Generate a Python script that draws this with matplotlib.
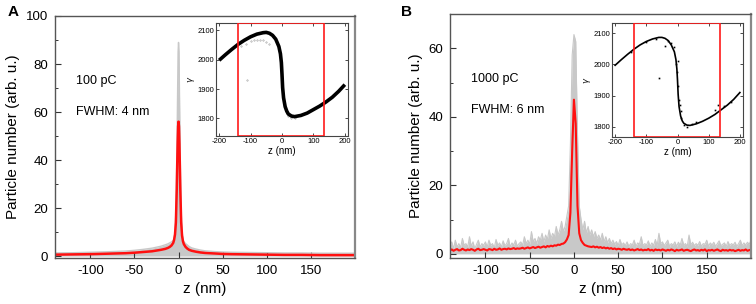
import matplotlib
matplotlib.use('Agg')

import numpy as np
import matplotlib.pyplot as plt
from matplotlib.patches import Rectangle
from matplotlib.ticker import MultipleLocator

plt.rcParams['font.family'] = ['Liberation Sans', 'DejaVu Sans']
plt.rcParams['axes.unicode_minus'] = False

# ---- panel A : 100 pC ----
z_a = [-140, -120, -100, -80, -60, -50, -40, -30, -25, -20, -15, -12, -10, -8, -6, -5, -4, -3, -2, -1.5,
       -1, -0.5, 0, 0.5, 1, 1.5, 2, 3, 4, 5, 6, 8, 10, 12, 15, 20, 25, 30, 40, 50,
       60, 80, 100, 120, 140, 160, 180, 200]
red_a = [0.6, 0.7, 0.8, 1.0, 1.2, 1.4, 1.7, 2.0, 2.3, 2.6, 3.0, 3.4, 3.8, 4.4, 5.5, 6.8, 9, 14, 28, 38,
         47, 54, 56, 54, 47, 38, 28, 14, 8.5, 6.2, 5.0, 3.8, 3.1, 2.6, 2.2, 1.8, 1.5, 1.3, 1.1, 0.9,
         0.8, 0.7, 0.6, 0.5, 0.5, 0.4, 0.4, 0.4]
grey_a = [1.3, 1.4, 1.6, 1.8, 2.1, 2.4, 2.8, 3.3, 3.7, 4.1, 4.7, 5.1, 5.5, 5.9, 6.5, 7.2, 10, 18, 38, 54,
          70, 85, 89, 85, 70, 54, 38, 18, 10, 7.0, 6.0, 5.2, 4.6, 4.0, 3.4, 2.9, 2.5, 2.2, 1.9, 1.7,
          1.6, 1.5, 1.4, 1.3, 1.3, 1.2, 1.2, 1.2]

# ---- panel B : 1000 pC, sampled every 2 nm from -140 to 200 ----
z_b = np.arange(-140, 201, 2)
red_b = [1.0, 1.3, 0.9, 1.2, 1.4, 1.0, 1.1, 1.5, 1.2, 1.0, 1.3, 1.1, 1.4, 1.2, 0.9, 1.3, 1.5, 1.1, 1.2, 1.4,
         1.2, 1.0, 1.4, 1.3, 1.1, 1.5, 1.2, 1.3, 1.6, 1.2, 1.4, 1.5, 1.3, 1.6, 1.4, 1.5, 1.7, 1.4, 1.6, 1.5,
         1.6, 1.8, 1.5, 1.7, 1.9, 1.6, 1.8, 2.0, 1.7, 1.9, 2.1, 1.8, 2.0, 2.2, 1.9, 2.3, 2.1, 2.4, 2.2, 2.5,
         2.4, 2.7, 2.6, 2.9, 3.0, 3.4, 4.2, 5.5, 12, 30, 45, 38, 14, 6.0, 4.0, 3.2, 2.6, 2.4, 2.2, 2.1,
         2.0, 2.2, 1.9, 2.1, 1.8, 2.0, 1.7, 1.9, 1.6, 1.8, 1.5, 1.7, 1.4, 1.6, 1.3, 1.5, 1.4, 1.2, 1.5, 1.3,
         1.2, 1.4, 1.1, 1.3, 1.0, 1.2, 1.4, 1.1, 1.3, 1.0, 1.2, 1.1, 1.4, 1.0, 1.2, 0.9, 1.3, 1.1, 1.2, 1.0,
         1.3, 1.1, 0.9, 1.2, 1.0, 1.3, 1.1, 0.8, 1.2, 1.0, 1.1, 1.3, 0.9, 1.1, 1.2, 1.0, 0.8, 1.1, 1.3, 1.0,
         1.1, 0.9, 1.2, 1.0, 1.3, 0.8, 1.1, 1.0, 1.2, 0.9, 1.1, 1.3, 1.0, 0.8, 1.2, 1.0, 1.1, 0.9, 1.2, 1.0,
         1.1, 0.8, 1.0, 1.2, 0.9, 1.1, 1.0, 1.3, 0.9, 1.1, 1.2]
grey_b = [2.5, 3.5, 1.5, 4.0, 2.0, 3.0, 1.8, 4.5, 2.5, 3.0, 2.0, 5.0, 2.2, 3.5, 1.5, 2.8, 4.0, 2.0, 3.0, 2.5,
          3.5, 2.0, 4.0, 2.5, 3.0, 1.8, 4.2, 2.5, 3.2, 2.0, 3.8, 2.4, 3.0, 4.5, 2.0, 3.2, 2.6, 4.0, 2.2, 3.0,
          3.5, 2.5, 5.0, 3.0, 4.0, 2.8, 6.5, 3.5, 4.5, 3.0, 5.0, 4.0, 6.0, 3.5, 5.5, 4.2, 7.0, 4.5, 6.0, 5.0,
          8.0, 5.5, 7.0, 9.5, 6.5, 8.0, 11, 14, 32, 58, 64, 62, 35, 14, 10, 7.0, 9.5, 6.0, 8.0, 5.5,
          7.0, 5.0, 6.5, 4.5, 5.5, 4.0, 6.0, 3.5, 5.0, 3.2, 4.5, 3.0, 4.0, 2.8, 3.6, 2.5, 4.2, 2.6, 3.2, 2.4,
          3.5, 2.2, 3.0, 2.6, 4.0, 2.2, 3.2, 2.8, 5.0, 2.4, 3.0, 2.6, 3.8, 2.2, 3.2, 2.5, 4.2, 2.4, 6.0, 3.0,
          3.5, 2.4, 3.2, 4.0, 2.2, 3.0, 2.6, 3.5, 2.2, 3.4, 2.5, 4.5, 2.6, 3.0, 2.2, 5.5, 2.6, 3.4, 2.4, 3.0,
          2.5, 3.6, 2.2, 3.0, 2.8, 4.0, 2.2, 3.2, 2.6, 3.4, 2.2, 3.0, 3.8, 2.4, 2.8, 3.2, 2.2, 3.6, 2.4, 3.0,
          2.6, 3.4, 2.2, 3.0, 4.0, 2.4, 3.2, 2.6, 3.4, 2.8, 4.0]

# ---- insets: longitudinal phase space gamma(z) ----
z_in = [-200, -180, -160, -140, -120, -100, -80, -60, -50, -40, -30, -20, -10, -5, -2, 0, 2, 5, 10, 15,
        20, 30, 40, 60, 80, 100, 120, 140, 160, 180, 200]
gam_in_a = [1998, 2017, 2035, 2052, 2066, 2078, 2087, 2092, 2093, 2090, 2083, 2070, 2045, 2020, 1990, 1950, 1905, 1870, 1840, 1825,
            1815, 1808, 1806, 1810, 1818, 1830, 1842, 1856, 1872, 1892, 1915]
gam_in_b = [1997, 2015, 2032, 2048, 2062, 2073, 2081, 2086, 2086, 2083, 2076, 2062, 2040, 2015, 1985, 1950, 1905, 1865, 1835, 1820,
            1812, 1806, 1805, 1810, 1818, 1828, 1840, 1855, 1870, 1888, 1910]
# faint secondary population and stray particles
z_ghost_a = [-130, -115, -100, -90, -80, -70, -60, -50, -40, -110, 20, 30, 40]
gam_ghost_a = [2046, 2055, 2062, 2066, 2068, 2068, 2066, 2061, 2052, 1932, 1808, 1800, 1802]
z_scat_b = [-60, -40, -30, -20, -10, -5, -2, 0, 2, 5, 8, 10, 12, 20, 30, 45, 60, 120, 130, 150, 170, -150, -100, -70]
gam_scat_b = [1955, 2060, 2075, 2068, 2055, 2000, 1975, 2010, 1930, 1885, 1870, 1830, 1850, 1805, 1800, 1810, 1815, 1855, 1870, 1868, 1880, 2040, 2070, 2080]

fig = plt.figure(figsize=(7.56, 3.04), dpi=100, facecolor='w')
W, H = 756.0, 304.0

def box(l, t, r, b):
    return [l / W, 1 - b / H, (r - l) / W, (b - t) / H]

frame = '#555555'

def style_main(ax, ystep):
    for s in ax.spines.values():
        s.set_color(frame)
        s.set_linewidth(1.0)
    ax.spines['right'].set_color('#888888')
    ax.spines['right'].set_linewidth(1.6)
    ax.tick_params(direction='in', length=4, width=0.8, color='#333333', labelsize=9.5, pad=5)
    ax.tick_params(which='minor', direction='in', length=2.5, width=0.7, color='#333333')
    ax.yaxis.set_minor_locator(MultipleLocator(ystep))
    ax.set_xlim(-140, 200)
    ax.set_xticks([-100, -50, 0, 50, 100, 150])
    ax.set_xlabel('z (nm)', fontsize=11, labelpad=4)
    ax.set_ylabel('Particle number (arb. u.)', fontsize=11, labelpad=4)

def style_inset(ax):
    for s in ax.spines.values():
        s.set_color('#444444')
        s.set_linewidth(0.8)
    ax.tick_params(direction='in', length=2, width=0.5, labelsize=5.5, pad=1.5, top=True, right=True)
    ax.set_xlim(-210, 210)
    ax.set_xticks([-200, -100, 0, 100, 200])
    ax.set_yticks([1800, 1900, 2000, 2100])
    ax.set_xlabel('z (nm)', fontsize=7, labelpad=1)
    ax.set_ylabel(r'$\gamma$', fontsize=6, labelpad=0, rotation=90)
    ax.add_patch(Rectangle((-140, ax.get_ylim()[0]), 275, ax.get_ylim()[1] - ax.get_ylim()[0],
                           fill=False, edgecolor='#ff1a1a', lw=1.2, zorder=5))

# panel A
axA = fig.add_axes(box(55, 16, 355, 258))
axA.fill_between(z_a, 0, grey_a, color='#c8c8c8', lw=0)
axA.plot(z_a, grey_a, color='#c8c8c8', lw=1.0)
axA.plot(z_a, red_a, color='#ff1010', lw=1.8)
axA.set_ylim(-0.8, 100)
axA.set_yticks([0, 20, 40, 60, 80, 100])
style_main(axA, 10)
axA.text(-116, 73, '100 pC', fontsize=9, va='center')
axA.text(-116, 60, 'FWHM: 4 nm', fontsize=9, va='center')
fig.text(8 / W, 1 - 12 / H, 'A', fontsize=11, fontweight='bold', va='center')

# panel B
axB = fig.add_axes(box(450, 14, 751, 258))
axB.fill_between(z_b, 0, grey_b, color='#c8c8c8', lw=0)
axB.plot(z_b, grey_b, color='#c8c8c8', lw=0.8)
axB.plot(z_b, red_b, color='#ff1010', lw=1.5)
axB.set_ylim(-1.2, 70)
axB.set_yticks([0, 20, 40, 60])
style_main(axB, 10)
axB.text(-116, 51, '1000 pC', fontsize=9, va='center')
axB.text(-116, 42, 'FWHM: 6 nm', fontsize=9, va='center')
fig.text(401 / W, 1 - 12 / H, 'B', fontsize=11, fontweight='bold', va='center')

# inset A
inA = fig.add_axes(box(216, 23, 348, 136))
inA.set_ylim(1740, 2125)
inA.plot(z_ghost_a, gam_ghost_a, 'o', ms=1.0, color='#999999', mfc='none', mew=0.4)
inA.plot(z_in, gam_in_a, color='black', lw=2.6, solid_capstyle='butt')
style_inset(inA)

# inset B
inB = fig.add_axes(box(612, 23, 743, 137))
inB.set_ylim(1768, 2132)
inB.plot(z_in, gam_in_b, color='black', lw=1.2)
inB.plot(z_scat_b, gam_scat_b, 's', ms=1.2, color='black', mew=0)
style_inset(inB)

fig.savefig('out.png', dpi=100, facecolor='w')
